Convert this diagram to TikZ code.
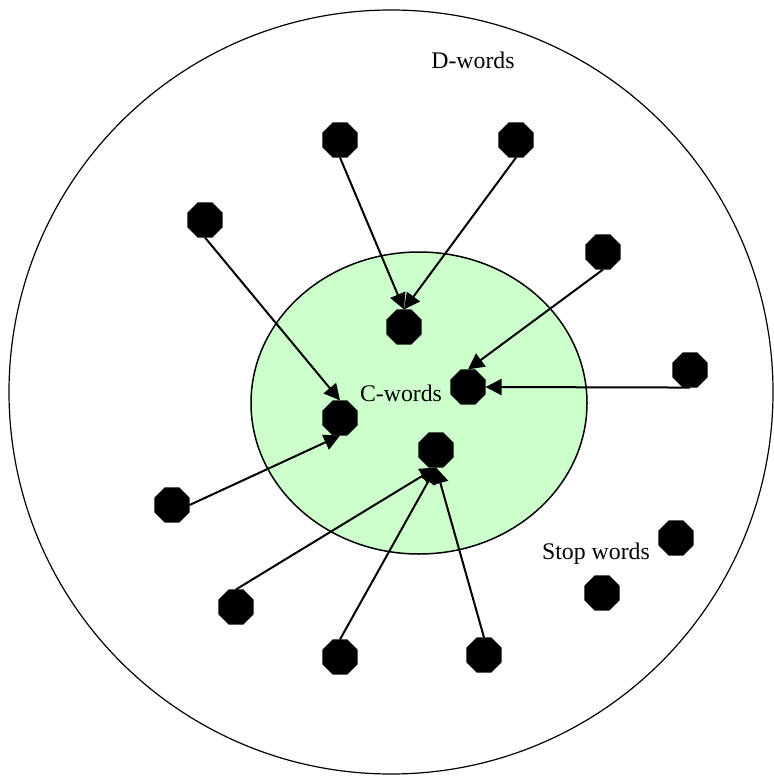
\documentclass[tikz,border=0pt]{standalone}
\usepackage{fontspec}
\setmainfont{Liberation Serif}
\usetikzlibrary{positioning}
\usetikzlibrary{shapes,arrows.meta}
\definecolor{cgreen}{HTML}{CCFFCC}
\tikzset{
	word/.style = {regular polygon, regular polygon sides=8, fill=black,
	 minimum size=38pt, inner sep=0pt, outer sep=0pt,
                node contents={}},
	tag/.style = {font=\fontsize{23.8}{28}\selectfont, inner sep=0pt},
	link/.style = {-{Triangle[length=16pt,width=16pt]}, line width=2pt},
}
\begin{document}
\begin{tikzpicture}[x=1pt, y=-1pt]
               \useasboundingbox (0,0) rectangle (773,778);
               \draw[line width=1.2pt] (391,392) circle (382);
               \draw[line width=1.5pt, fill=cgreen] (419,403) ellipse (168 and 151);
               \node (dlab) at (473,60) [tag] {D-words};
               \node (clab) at (401,393) [tag] {C-words};
               \node (slab) at (596,554) [tag] {Stop words};
               % C-words
               \node (t1) at (404,327) [word];
               \node (t2) at (468,387) [word];
               \node (t3) at (340,418) [word];
               \node (t4) at (436,450) [word];
               % D-words
               \node (s1) at (340,140) [word];
               \node (s2) at (516,140) [word];
               \node (s3) at (205,220) [word];
               \node (s4) at (603,252) [word];
               \node (s5) at (690,370) [word];
               \node (s6) at (172,505) [word];
               \node (s7) at (236,607) [word];
               \node (s8) at (340,657) [word];
               \node (s9) at (484,655) [word];
               % stop words
               \node (w1) at (676,538) [word];
               \node (w2) at (602,593) [word];
                \path[link] (s1.south) edge  (t1.north);
                \path[link] (s2.south) edge  (t1.north);
                \path[link] (s3.south) edge  (t3.north);
                \path[link] (s6.east) edge  (t3.south);
                \path[link] (s4.south) edge  (t2.north);
                \path[link] (s5.south) edge  (t2.east);
                \path[link] (s7.north) edge  (t4.south);
                \path[link] (s8.north) edge  (t4.south);
                \path[link] (s9.north) edge  (t4.south);
        \end{tikzpicture}
\end{document}
